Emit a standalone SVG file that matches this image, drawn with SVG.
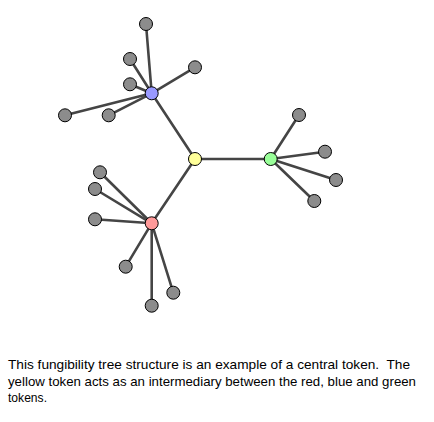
<svg xmlns="http://www.w3.org/2000/svg" width="434" height="422" viewBox="0 0 434 422">
<style>
.e{stroke:#454545;stroke-width:2.6;fill:none;stroke-linecap:round}
.n{stroke:#000;stroke-width:1}
.g{fill:#8c8c8c}
.t{font-family:"Liberation Sans",Arial,sans-serif;font-size:13.5px;fill:#000}
</style>
<rect width="434" height="422" fill="#fff"/>
<g id="connectors">
<line class="e" x1="195" y1="159" x2="270.7" y2="159"/>
<line class="e" x1="195" y1="159" x2="151.7" y2="93.3"/>
<line class="e" x1="195" y1="159" x2="151.7" y2="223.3"/>
<line class="e" x1="151.7" y1="93.3" x2="146" y2="24"/>
<line class="e" x1="151.7" y1="93.3" x2="130" y2="59"/>
<line class="e" x1="151.7" y1="93.3" x2="130" y2="84.3"/>
<line class="e" x1="151.7" y1="93.3" x2="195" y2="67.3"/>
<line class="e" x1="151.7" y1="93.3" x2="65" y2="115.3"/>
<line class="e" x1="151.7" y1="93.3" x2="108.7" y2="115.3"/>
<line class="e" x1="270.7" y1="159" x2="299" y2="115"/>
<line class="e" x1="270.7" y1="159" x2="325" y2="151.7"/>
<line class="e" x1="270.7" y1="159" x2="336" y2="180"/>
<line class="e" x1="270.7" y1="159" x2="314.3" y2="201"/>
<line class="e" x1="151.7" y1="223.3" x2="100" y2="172.3"/>
<line class="e" x1="151.7" y1="223.3" x2="95" y2="189"/>
<line class="e" x1="151.7" y1="223.3" x2="95" y2="219.3"/>
<line class="e" x1="151.7" y1="223.3" x2="125.7" y2="266.7"/>
<line class="e" x1="151.7" y1="223.3" x2="151.7" y2="305.7"/>
<line class="e" x1="151.7" y1="223.3" x2="173.3" y2="292.7"/>
</g>
<g id="b1"><circle class="n g" cx="146" cy="24" r="6.5"/></g>
<g id="b2"><circle class="n g" cx="130" cy="59" r="6.5"/></g>
<g id="b3"><circle class="n g" cx="130" cy="84.3" r="6.5"/></g>
<g id="b4"><circle class="n g" cx="195" cy="67.3" r="6.5"/></g>
<g id="b5"><circle class="n g" cx="65" cy="115.3" r="6.5"/></g>
<g id="b6"><circle class="n g" cx="108.7" cy="115.3" r="6.5"/></g>
<g id="g1"><circle class="n g" cx="299" cy="115" r="6.5"/></g>
<g id="g2"><circle class="n g" cx="325" cy="151.7" r="6.5"/></g>
<g id="g3"><circle class="n g" cx="336" cy="180" r="6.5"/></g>
<g id="g4"><circle class="n g" cx="314.3" cy="201" r="6.5"/></g>
<g id="r1"><circle class="n g" cx="100" cy="172.3" r="6.5"/></g>
<g id="r2"><circle class="n g" cx="95" cy="189" r="6.5"/></g>
<g id="r3"><circle class="n g" cx="95" cy="219.3" r="6.5"/></g>
<g id="r4"><circle class="n g" cx="125.7" cy="266.7" r="6.5"/></g>
<g id="r5"><circle class="n g" cx="151.7" cy="305.7" r="6.5"/></g>
<g id="r6"><circle class="n g" cx="173.3" cy="292.7" r="6.5"/></g>
<g id="blue"><circle class="n" cx="151.7" cy="93.3" r="6.5" fill="#9999ff"/></g>
<g id="green"><circle class="n" cx="270.7" cy="159" r="6.5" fill="#99ff99"/></g>
<g id="red"><circle class="n" cx="151.7" cy="223.3" r="6.5" fill="#ff9999"/></g>
<g id="yellow"><circle class="n" cx="195" cy="159" r="6.5" fill="#ffff99"/></g>
<g id="caption">
<text class="t" x="8" y="369" textLength="402" lengthAdjust="spacingAndGlyphs" xml:space="preserve">This fungibility tree structure is an example of a central token.  The</text>
<text class="t" x="8" y="386" textLength="408" lengthAdjust="spacingAndGlyphs">yellow token acts as an intermediary between the red, blue and green</text>
<text class="t" x="8" y="402" textLength="39" lengthAdjust="spacingAndGlyphs">tokens.</text>
</g>
</svg>
